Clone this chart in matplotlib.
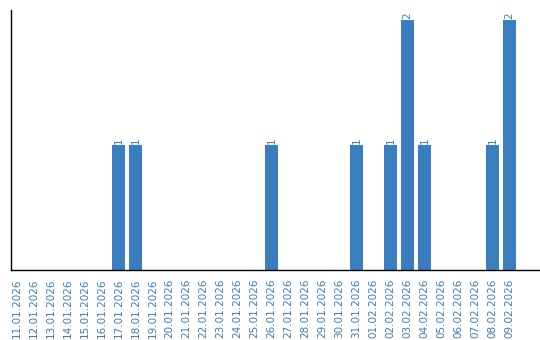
import matplotlib
matplotlib.use("Agg")
import matplotlib.pyplot as plt

dates = ["11.01.2026", "12.01.2026", "13.01.2026", "14.01.2026", "15.01.2026",
         "16.01.2026", "17.01.2026", "18.01.2026", "19.01.2026", "20.01.2026",
         "21.01.2026", "22.01.2026", "23.01.2026", "24.01.2026", "25.01.2026",
         "26.01.2026", "27.01.2026", "28.01.2026", "29.01.2026", "30.01.2026",
         "31.01.2026", "01.02.2026", "02.02.2026", "03.02.2026", "04.02.2026",
         "05.02.2026", "06.02.2026", "07.02.2026", "08.02.2026", "09.02.2026"]
counts = [0, 0, 0, 0, 0, 0, 1, 1, 0, 0,
          0, 0, 0, 0, 0, 1, 0, 0, 0, 0,
          1, 0, 1, 2, 1, 0, 0, 0, 1, 2]

color = "#3a7ebf"

fig = plt.figure(figsize=(5.4, 3.4), dpi=100)
ax = fig.add_axes([10.5 / 540, 70 / 340, (540 - 10.5) / 540, 260 / 340])

x = list(range(len(dates)))
bars = ax.bar(x, counts, width=0.8, color=color)
for xi, v in zip(x, counts):
    if v > 0:
        ax.text(xi, v + 0.01, str(v), rotation=90, ha="center", va="bottom",
                fontsize=7.5, color=color)

ax.set_xlim(-0.35, 30.8)
ax.set_ylim(0, 2.08)
ax.set_xticks(x)
ax.set_xticklabels(dates, rotation=90, fontsize=7.5, color=color)
ax.tick_params(axis="x", length=0, pad=6)
ax.set_yticks([])
for s in ["top", "right"]:
    ax.spines[s].set_visible(False)
for s in ["left", "bottom"]:
    ax.spines[s].set_linewidth(1.0)
    ax.spines[s].set_color("black")

fig.savefig("out.png", dpi=100)
